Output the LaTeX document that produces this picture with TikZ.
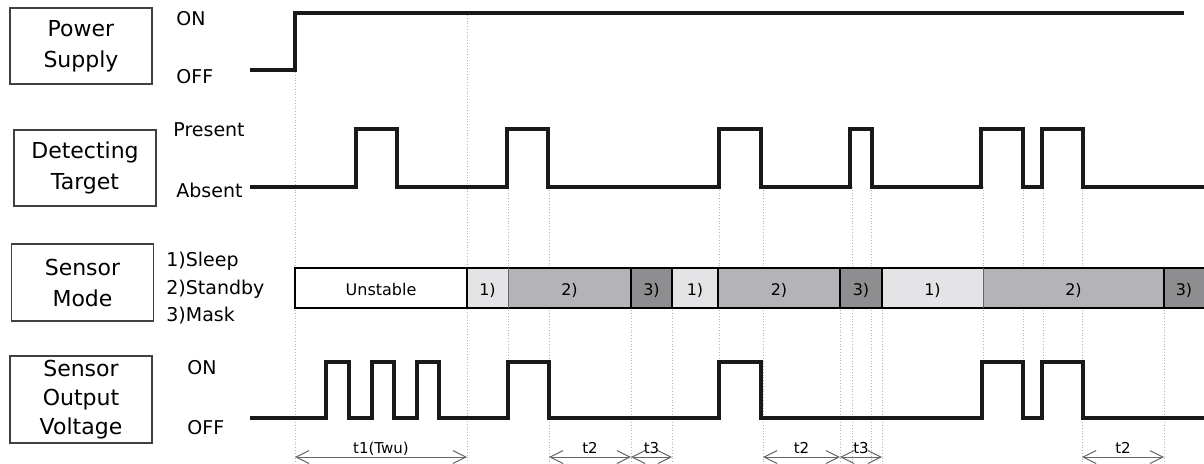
\documentclass[tikz,border=0pt]{standalone}
\usepackage{fontspec}
\setmainfont{DejaVu Sans}
\usetikzlibrary{arrows.meta}
\definecolor{sleepgray}{HTML}{E4E4E6}
\definecolor{standbygray}{HTML}{B4B4B8}
\definecolor{maskgray}{HTML}{8E8E90}
\begin{document}
\begin{tikzpicture}[x=0.5pt, y=-0.5pt,
	signal/.style={line width=2pt, line join=miter, black!90},
	guide/.style={densely dotted, gray!60, line width=0.4pt},
	namebox/.style={draw=black!75, line width=0.7pt, minimum width=71pt, align=center, inner sep=0pt, font=\fontsize{11}{15.5}\selectfont},
	level/.style={anchor=base west, inner sep=0pt, font=\fontsize{9.5}{11}\selectfont},
	modetext/.style={inner sep=0pt, font=\fontsize{8}{9}\selectfont},
	dimline/.style={black!60, line width=0.5pt, {Straight Barb[length=6.5pt,width=6.5pt]}-{Straight Barb[length=6.5pt,width=6.5pt]}}]
	\useasboundingbox (0,0) rectangle (1204,463);

	% row names
	\node (power) at (81, 46) [namebox, minimum height=38pt] {Power\\Supply};
	\node (target) at (85, 168) [namebox, minimum height=38pt] {Detecting\\Target};
	\node (mode) at (82.5, 282.5) [namebox, minimum height=38.5pt] {Sensor\\Mode};
	\node (output) at (81, 399.5) [namebox, minimum height=43.5pt, font=\fontsize{11}{14.5}\selectfont] {Sensor\\Output\\Voltage};

	% levels
	\node (pon) at (176, 25) [level] {ON};
	\node (poff) at (176, 83) [level] {OFF};
	\node (tpres) at (173, 136) [level] {Present};
	\node (tabs) at (176, 197) [level] {Absent};
	\node (msleep) at (166, 266) [level] {1)Sleep};
	\node (mstandby) at (166, 294) [level] {2)Standby};
	\node (mmask) at (166, 321) [level] {3)Mask};
	\node (oon) at (187, 374) [level] {ON};
	\node (ooff) at (187, 434) [level] {OFF};

	% guides
	\foreach \x/\top/\bot in {295/72/463, 467/15/463, 508/187/418, 549/187/463,
		631/268/463, 672/268/463, 719/187/418, 763/187/463, 840/268/463,
		852/187/463, 871/187/463, 882/268/463, 983/187/418, 1023/187/418,
		1043/187/418, 1082/187/463, 1164/268/463}
		\draw[guide] (\x, \top) -- (\x, \bot);

	% signals
	\draw[signal] (250, 70) -| (295, 13) -- (1184, 13);
	\draw[signal] (250, 187) -| (356, 129) -| (397, 187) -| (507, 129) -| (548, 187)
		-| (719, 129) -| (761, 187) -| (850, 129) -| (872, 187) -| (981, 129)
		-| (1023, 187) -| (1042, 129) -| (1083, 187) -- (1204, 187);
	\draw[signal] (250, 418) -| (326, 362) -| (349, 418) -| (372, 362) -| (394, 418)
		-| (417, 362) -| (439, 418) -| (508, 362) -| (549, 418) -| (719, 362)
		-| (761, 418) -| (982, 362) -| (1023, 418) -| (1042, 362) -| (1083, 418)
		-- (1204, 418);

	% sensor mode bar
	\foreach \a/\b/\f/\t [count=\i] in {295/467/white/Unstable, 467/508/sleepgray/{1)},
		508/631/standbygray/{2)}, 631/672/maskgray/{3)}, 672/718/sleepgray/{1)},
		718/840/standbygray/{2)}, 840/882/maskgray/{3)}, 882/983/sleepgray/{1)},
		983/1164/standbygray/{2)}, 1164/1204/maskgray/{3)}}
	{
		\fill[\f] (\a, 268) rectangle (\b, 308);
		\node (m\i) at ({(\a+\b)/2}, 290) [modetext] {\t};
	}
	\draw[line width=1pt] (1204, 268) -| (295, 308) -- (1204, 308);
	\foreach \x in {467, 631, 672, 718, 840, 882, 1164}
		\draw[line width=1pt] (\x, 268) -- (\x, 308);
	\foreach \x in {508, 983}
		\draw[line width=0.4pt, black!60] (\x, 268) -- (\x, 308);

	% periods
	\foreach \a/\b/\t in {295/467/{t1(Twu)}, 549/631/t2, 631/672/t3,
		763/840/t2, 840/882/t3, 1082/1164/t2}
		\draw[dimline] (\a, 457) -- (\b, 457)
			node [midway, anchor=base, yshift=2pt, inner sep=0pt, text=black, font=\fontsize{7.5}{9}\selectfont] {\t};
\end{tikzpicture}
\end{document}
